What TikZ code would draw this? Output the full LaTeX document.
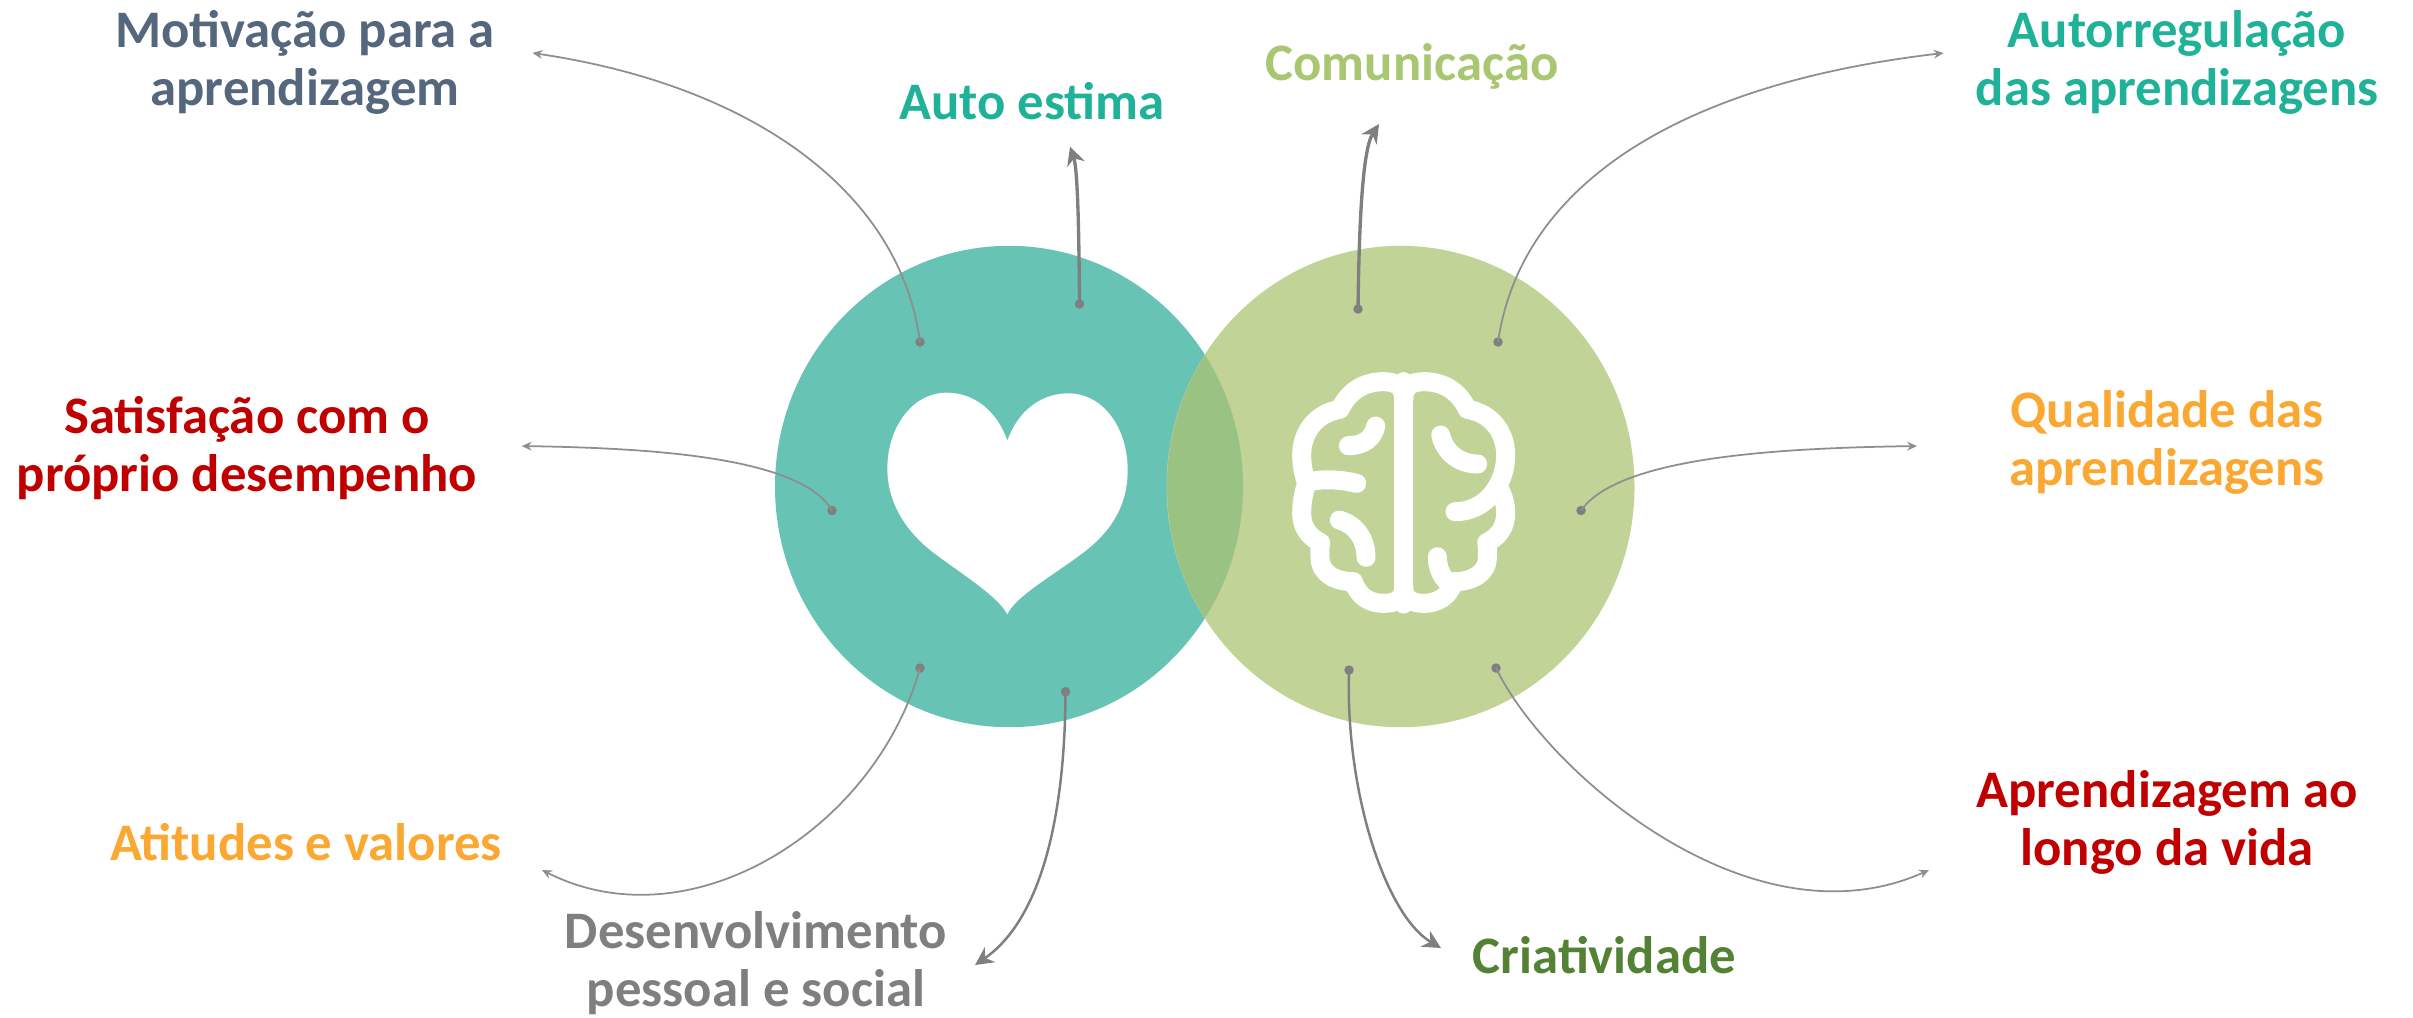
\documentclass[tikz,border=0pt]{standalone}
\usepackage{fontspec}
\setmainfont{Carlito}
\usetikzlibrary{arrows.meta,shapes.geometric}
\definecolor{cTeal}{HTML}{67C3B4}
\definecolor{cGreen}{HTML}{C2D398}
\definecolor{cOver}{HTML}{9AC383}
\definecolor{cLine}{HTML}{7F7F7F}
\definecolor{cThin}{HTML}{8E8E8E}
\definecolor{tSlate}{HTML}{55677D}
\definecolor{tTeal}{HTML}{1FB299}
\definecolor{tRed}{HTML}{C00000}
\definecolor{tOrange}{HTML}{FAA832}
\definecolor{tLime}{HTML}{A9C670}
\definecolor{tGrey}{HTML}{7F7F7F}
\definecolor{tDark}{HTML}{548235}
\tikzset{
  lbl/.style={font=\fontsize{15pt}{16.4pt}\selectfont\bfseries,inner sep=0pt,align=center,anchor=base},
  disc/.style={ellipse,minimum width=468*0.01cm,minimum height=481.4*0.01cm,inner sep=0pt,draw=none},
  dotn/.style={circle,fill=cLine,inner sep=0pt,minimum size=2.7pt},
  thinlink/.style={draw=cThin,line width=0.5pt,-{Stealth[length=2.8pt,width=2.5pt]}},
  boldlink/.style={draw=cLine,line width=0.95pt,-{Stealth[length=5.2pt,width=5.2pt]}},
  midlink/.style={boldlink,line width=0.7pt},
  brainline/.style={draw=white,line width=5.4pt,line cap=round,line join=round},
}
\begin{document}
\begin{tikzpicture}[x=0.01cm,y=-0.01cm]
\useasboundingbox (0,0) rectangle (2413,1017);
% discs
\node[disc,fill=cTeal] (heartdisc) at (1009,486.5) {};
\node[disc,fill=cGreen] (braindisc) at (1400.5,486.5) {};
\begin{scope}
  \clip (1009,486.5) ellipse [x radius=234,y radius=240.7];
  \fill[cOver] (1400.5,486.5) ellipse [x radius=233.5,y radius=240.7];
\end{scope}
% heart
\begin{scope}[shift={(850,370)},x=0.01cm/3,y=-0.01cm/3]
  \fill[white] (472,212)
    .. controls (440,120) and (370,68) .. (290,68)
    .. controls (185,68) and (112,175) .. (112,295)
    .. controls (112,400) and (170,490) .. (260,555)
    .. controls (340,615) and (445,680) .. (472,733)
    .. controls (495,680) and (610,615) .. (690,555)
    .. controls (780,490) and (833,410) .. (833,300)
    .. controls (833,175) and (760,70) .. (655,70)
    .. controls (575,70) and (505,120) .. (472,212) -- cycle;
\end{scope}
% brain
\begin{scope}[shift={(1250,350)},x=0.01cm/3,y=-0.01cm/3]
  \draw[brainline] (461,95) -- (461,762);
  % left hemisphere outline
  \draw[brainline] (461,150) .. controls (461,110) and (440,95) .. (400,95)
     .. controls (340,95) and (295,125) .. (270,178)
     .. controls (195,190) and (155,250) .. (155,315)
     .. controls (155,345) and (160,370) .. (170,400)
     .. controls (160,430) and (155,460) .. (155,490)
     .. controls (155,530) and (175,560) .. (212,578)
     .. controls (208,600) and (210,610) .. (210,625)
     .. controls (210,665) and (250,695) .. (310,695)
     .. controls (325,740) and (360,760) .. (400,760)
     .. controls (440,760) and (461,745) .. (461,710);
  \draw[brainline] (170,397) .. controls (215,385) and (270,388) .. (320,400);
  \draw[brainline] (295,287) .. controls (340,287) and (370,265) .. (377,228);
  \draw[brainline] (268,510) .. controls (320,525) and (348,570) .. (348,622);
  % right hemisphere outline
  \draw[brainline] (461,150) .. controls (461,110) and (482,95) .. (522,95)
     .. controls (582,95) and (627,125) .. (652,178)
     .. controls (727,190) and (767,250) .. (767,315)
     .. controls (767,400) and (710,485) .. (615,485);
  \draw[brainline] (750,420) .. controls (762,445) and (767,465) .. (767,490)
     .. controls (767,530) and (747,560) .. (710,578)
     .. controls (714,600) and (712,610) .. (712,625)
     .. controls (712,665) and (672,695) .. (612,695)
     .. controls (597,740) and (562,760) .. (522,760)
     .. controls (482,760) and (461,745) .. (461,710);
  \draw[brainline] (572,255) .. controls (585,310) and (630,342) .. (683,342);
  \draw[brainline] (562,620) .. controls (562,660) and (580,690) .. (605,705);
\end{scope}
% labels
\node[lbl,text=tSlate] (motiv) at (305,105) {Motivação para a\\aprendizagem};
\node[lbl,text=tRed] (satisf) at (247,491) {Satisfação com o\\próprio desempenho};
\node[lbl,text=tOrange] (atit) at (306,860) {Atitudes e valores};
\node[lbl,text=tGrey] (desenv) at (756,1006.5) {Desenvolvimento\\pessoal e social};
\node[lbl,text=tTeal] (auto) at (1032,119) {Auto estima};
\node[lbl,text=tLime] (comun) at (1412,80) {Comunicação};
\node[lbl,text=tTeal] (autor) at (2177,105) {Autorregulação\\das aprendizagens};
\node[lbl,text=tOrange] (qual) at (2167,485) {Qualidade das\\aprendizagens};
\node[lbl,text=tRed] (aprend) at (2167,865) {Aprendizagem ao\\longo da vida};
\node[lbl,text=tDark] (criat) at (1604.5,973.5) {Criatividade};
% dots
\node[dotn] (d1) at (920,342) {};
\node[dotn] (d2) at (832,510.5) {};
\node[dotn] (d3) at (920,668) {};
\node[dotn] (d4) at (1065.5,691.7) {};
\node[dotn] (d5) at (1079.5,304) {};
\node[dotn] (d6) at (1358,309) {};
\node[dotn] (d7) at (1498,342) {};
\node[dotn] (d8) at (1581,510.5) {};
\node[dotn] (d9) at (1496,668) {};
\node[dotn] (d10) at (1349,670) {};
% arrow ends
\coordinate (e1) at (532.5,53);
\coordinate (e2) at (521.7,446);
\coordinate (e3) at (542,870);
\coordinate (e4) at (975,965);
\coordinate (e5) at (1070,146.7);
\coordinate (e6) at (1379,124);
\coordinate (e7) at (1943.6,53);
\coordinate (e8) at (1917,446);
\coordinate (e9) at (1929,870);
\coordinate (e10) at (1441,948);
% connectors
\draw[thinlink] (d1.center) .. controls (900,190) and (750,85) .. (e1);
\draw[thinlink] (d2.center) .. controls (800,455) and (640,448) .. (e2);
\draw[thinlink] (d3.center) .. controls (875,830) and (690,945) .. (e3);
\draw[midlink] (d4.center) .. controls (1065,820) and (1040,920) .. (e4);
\draw[boldlink] (d5.center) .. controls (1079,240) and (1078,170) .. (e5);
\draw[boldlink] (d6.center) .. controls (1359,230) and (1362,150) .. (e6);
\draw[thinlink] (d7.center) .. controls (1520,190) and (1670,85) .. (e7);
\draw[thinlink] (d8.center) .. controls (1620,455) and (1790,448) .. (e8);
\draw[thinlink] (d9.center) .. controls (1545,770) and (1750,950) .. (e9);
\draw[midlink] (d10.center) .. controls (1345,790) and (1385,915) .. (e10);
\end{tikzpicture}
\end{document}
